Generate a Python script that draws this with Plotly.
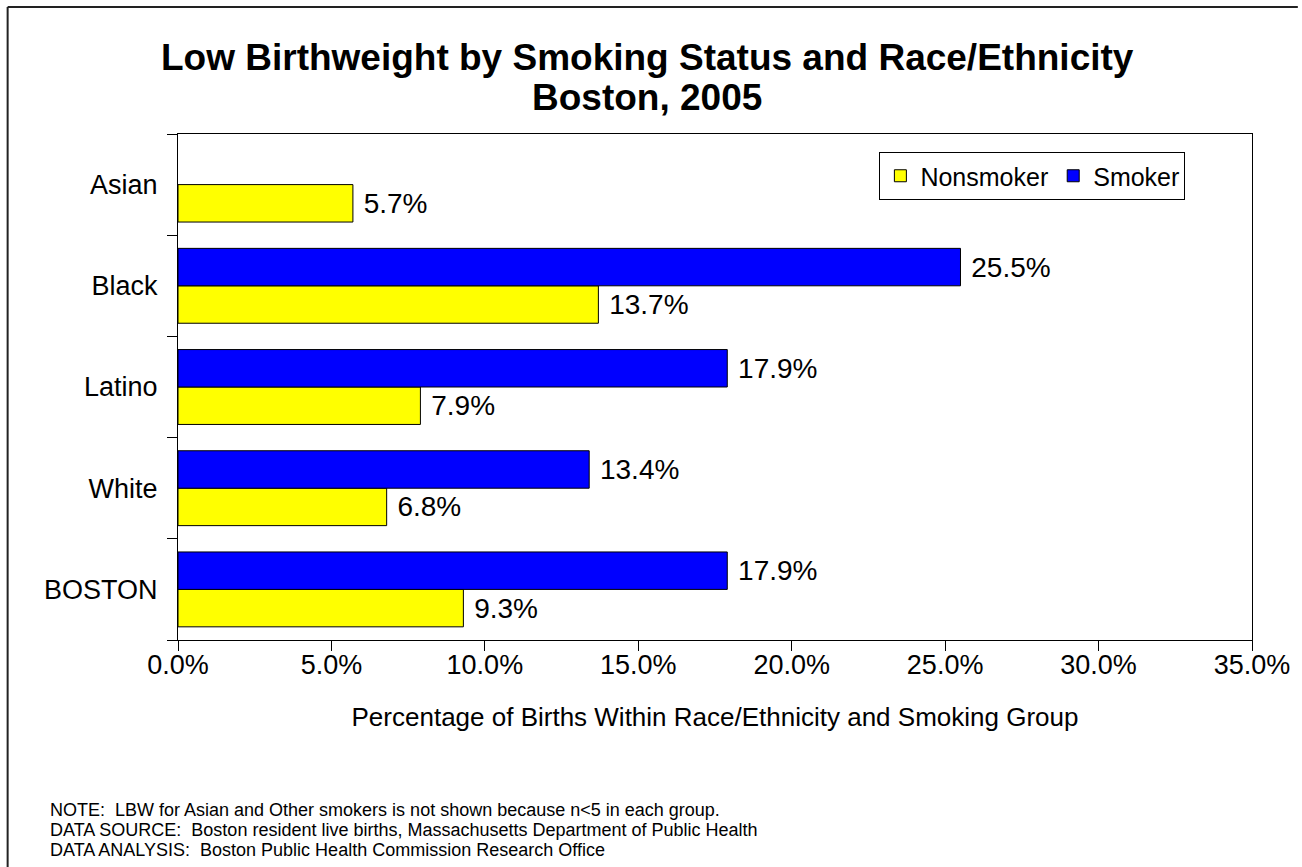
import plotly.graph_objects as go

categories = ["BOSTON", "White", "Latino", "Black", "Asian"]
nonsmoker = [9.3, 6.8, 7.9, 13.7, 5.7]
smoker = [17.9, 13.4, 17.9, 25.5, None]
series_names = ["Nonsmoker", "Smoker"]
title_lines = ["Low Birthweight by Smoking Status and Race/Ethnicity", "Boston, 2005"]
x_title = "Percentage of Births Within Race/Ethnicity and Smoking Group"
notes = [
    "NOTE:  LBW for Asian and Other smokers is not shown because n<5 in each group.",
    "DATA SOURCE:  Boston resident live births, Massachusetts Department of Public Health",
    "DATA ANALYSIS:  Boston Public Health Commission Research Office",
]

FONT = "Liberation Sans, Arial, sans-serif"
W, H = 1302, 867
L, T = 178, 134
R = W - 1256
B = H - 640
pw, ph = W - L - R, H - T - B

def px_x(p):
    return (p - L) / pw

def px_y(p):
    return (H - B - p) / ph

fig = go.Figure()
for name, vals, col in [(series_names[0], nonsmoker, "#FFFF00"), (series_names[1], smoker, "#0000FF")]:
    fig.add_trace(go.Bar(
        y=categories, x=vals, name=name, orientation="h",
        marker=dict(color=col, line=dict(color="black", width=1)),
        text=[None if v is None else f" {v:.1f}%" for v in vals],
        textposition="outside", textfont=dict(family=FONT, size=28, color="black"),
        constraintext="none", cliponaxis=False, hoverinfo="skip",
    ))

fig.update_layout(
    width=W, height=H,
    margin=dict(l=L, r=R, t=T, b=B),
    paper_bgcolor="white", plot_bgcolor="white",
    barmode="group", bargap=0.26, bargroupgap=0,
    font=dict(family=FONT, color="black"),
    legend=dict(orientation="h", x=px_x(882), y=px_y(152), xanchor="left", yanchor="top",
                bordercolor="black", borderwidth=1, bgcolor="white",
                font=dict(family=FONT, size=25, color="black"), traceorder="normal",
                itemwidth=30, tracegroupgap=0),
    xaxis=dict(range=[0, 35], dtick=5, tickformat=".1f", ticksuffix="%",
               showgrid=False, zeroline=False, showline=True, linecolor="black", linewidth=1,
               mirror=True, ticks="outside", ticklen=10, tickcolor="black",
               ticklabelstandoff=-9,
               tickfont=dict(family=FONT, size=27, color="black"),
               title=dict(text=x_title, font=dict(family=FONT, size=26, color="black"), standoff=28)),
    yaxis=dict(showgrid=False, zeroline=False, showline=True, linecolor="black", linewidth=1,
               mirror=True, ticks="outside", ticklen=10, tickcolor="black", tickson="boundaries",
               ticklabelstandoff=14,
               tickfont=dict(family=FONT, size=27, color="black")),
    showlegend=True,
)

# title lines
for t, yc in zip(title_lines, [57, 98]):
    fig.add_annotation(text="<b>" + t + "</b>", xref="paper", yref="paper", x=px_x(649), y=px_y(yc),
                       xanchor="center", yanchor="middle", showarrow=False,
                       font=dict(family=FONT, size=37, color="black"))

# outer frame (top and left edges)
fig.add_shape(type="line", xref="paper", yref="paper", x0=px_x(7), x1=px_x(1302),
              y0=px_y(7), y1=px_y(7), line=dict(color="#222", width=2))
fig.add_shape(type="line", xref="paper", yref="paper", x0=px_x(7), x1=px_x(7),
              y0=px_y(7), y1=px_y(867), line=dict(color="#222", width=2))

for i, t in enumerate(notes):
    fig.add_annotation(text=t, xref="paper", yref="paper", x=px_x(48), y=px_y(810 + 20 * i),
                       xanchor="left", yanchor="middle", showarrow=False,
                       font=dict(family=FONT, size=18, color="black"))

fig.write_html("out.html", config={"displayModeBar": False},
               post_script="document.body.style.margin='0';document.body.style.overflow='hidden';")
